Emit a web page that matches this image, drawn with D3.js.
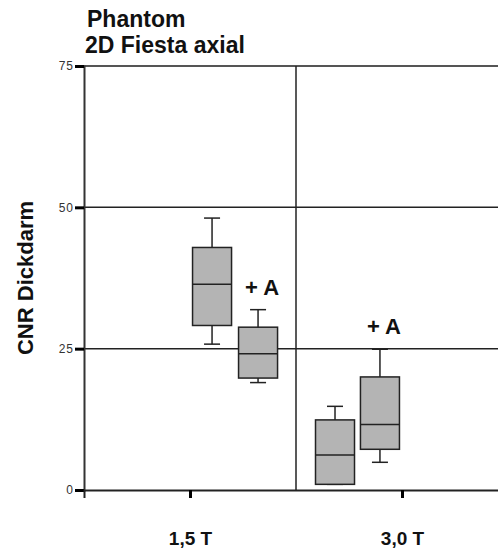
<!DOCTYPE html>
<html>
<head>
<meta charset="utf-8">
<script src="https://cdn.jsdelivr.net/npm/d3@7"></script>
<style>
  body { margin: 0; background: #fff; }
  text { font-family: "Liberation Sans", Arial, sans-serif; }
</style>
</head>
<body>
<div id="chart"></div>
<script>
// categories (field strength) and the box positions on the x scale
const categories = ['1,5 T', '3,0 T'];
const categoryPos = [0.5, 1.5];
const yTicks = [0, 25, 50, 75];

// one box per sequence: [whiskerLow, q1, median, q3, whiskerHigh]
const boxPos = [0.604, 0.821, 1.184, 1.396];
const boxStats = [
  [25.8, 29.1, 36.4, 42.9, 48.1],
  [19.0, 19.8, 24.1, 28.8, 31.9],
  [1.0, 1.0, 6.2, 12.4, 14.8],
  [4.9, 7.2, 11.6, 20.0, 24.9]
];
const boxLabels = ['', '+ A', '', '+ A'];

const margin = {top: 66, right: -10, bottom: 64, left: 84},
    width = 498 - margin.left - margin.right,
    height = 554 - margin.top - margin.bottom;

const svg = d3.select("#chart")
    .append("svg")
    .attr("width", 498)
    .attr("height", 554)
    .append("g")
    .attr("transform", `translate(${margin.left}, ${margin.top})`);

const x = d3.scaleLinear().domain([0, 2]).range([0, width]);
const y = d3.scaleLinear().domain([0, 75]).range([height, 0]);

// horizontal grid lines
svg.selectAll(".grid")
    .data(yTicks.filter(d => d > 0))
    .join("line")
    .attr("x1", 0).attr("x2", width)
    .attr("y1", d => y(d)).attr("y2", d => y(d))
    .attr("stroke", d => d === 75 ? "#555" : "#222")
    .attr("stroke-width", d => d === 75 ? 2 : 1.5);

// divider between categories
svg.append("line")
    .attr("x1", x(1)).attr("x2", x(1))
    .attr("y1", 0).attr("y2", height)
    .attr("stroke", "#222").attr("stroke-width", 1.5);

// y axis
const yAxis = svg.append("g")
    .call(d3.axisLeft(y).tickValues(yTicks).tickSize(9).tickPadding(1));
yAxis.select(".domain").attr("stroke", "#333").attr("stroke-width", 2);
yAxis.selectAll(".tick line").attr("stroke", "#000").attr("stroke-width", 3);
yAxis.selectAll(".tick text")
    .attr("font-size", 12).attr("fill", "#333")
    .style("letter-spacing", "1px");

// x axis
const xAxis = svg.append("g")
    .attr("transform", `translate(0, ${height})`)
    .call(d3.axisBottom(x).tickValues(categoryPos)
        .tickFormat((d, i) => categories[i]).tickSize(8).tickPadding(34));
xAxis.select(".domain").attr("stroke", "#222").attr("stroke-width", 2);
xAxis.selectAll(".tick line").attr("stroke", "#000").attr("stroke-width", 3);
xAxis.selectAll(".tick text")
    .attr("font-size", 19).attr("font-weight", "bold").attr("fill", "#111");

// boxes
const boxW = x(0.184) - x(0);
const capW = 16;
const boxes = svg.selectAll(".box")
    .data(boxStats.map((s, i) => ({s: s, pos: boxPos[i], label: boxLabels[i]})))
    .join("g")
    .attr("transform", d => `translate(${x(d.pos)}, 0)`);

boxes.append("line")
    .attr("x1", 0).attr("x2", 0)
    .attr("y1", d => y(d.s[0])).attr("y2", d => y(d.s[4]))
    .attr("stroke", "#222").attr("stroke-width", 1.5);
boxes.append("line")
    .attr("x1", -capW / 2).attr("x2", capW / 2)
    .attr("y1", d => y(d.s[4])).attr("y2", d => y(d.s[4]))
    .attr("stroke", "#222").attr("stroke-width", 1.5);
boxes.append("line")
    .attr("x1", -capW / 2).attr("x2", capW / 2)
    .attr("y1", d => y(d.s[0])).attr("y2", d => y(d.s[0]))
    .attr("stroke", "#222").attr("stroke-width", 1.5);
boxes.append("rect")
    .attr("x", -boxW / 2).attr("width", boxW)
    .attr("y", d => y(d.s[3]))
    .attr("height", d => y(d.s[1]) - y(d.s[3]))
    .attr("fill", "#b4b4b4").attr("stroke", "#222").attr("stroke-width", 1.5);
boxes.append("line")
    .attr("x1", -boxW / 2).attr("x2", boxW / 2)
    .attr("y1", d => y(d.s[2])).attr("y2", d => y(d.s[2]))
    .attr("stroke", "#222").attr("stroke-width", 1.5);
boxes.append("text")
    .attr("x", 4)
    .attr("y", d => y(d.s[4]) - 15)
    .attr("text-anchor", "middle")
    .attr("font-size", 22).attr("font-weight", "bold").attr("fill", "#111")
    .text(d => d.label);

// titles
svg.append("text")
    .attr("x", 3).attr("y", -39)
    .attr("font-size", 23).attr("font-weight", "bold").attr("fill", "#111")
    .text("Phantom");
svg.append("text")
    .attr("x", 1).attr("y", -13)
    .attr("font-size", 23).attr("font-weight", "bold").attr("fill", "#111")
    .text("2D Fiesta axial");

svg.append("text")
    .attr("transform", `translate(-51, ${y(37.5)}) rotate(-90)`)
    .attr("text-anchor", "middle")
    .attr("font-size", 22).attr("font-weight", "bold").attr("fill", "#111")
    .text("CNR Dickdarm");
</script>
</body>
</html>
